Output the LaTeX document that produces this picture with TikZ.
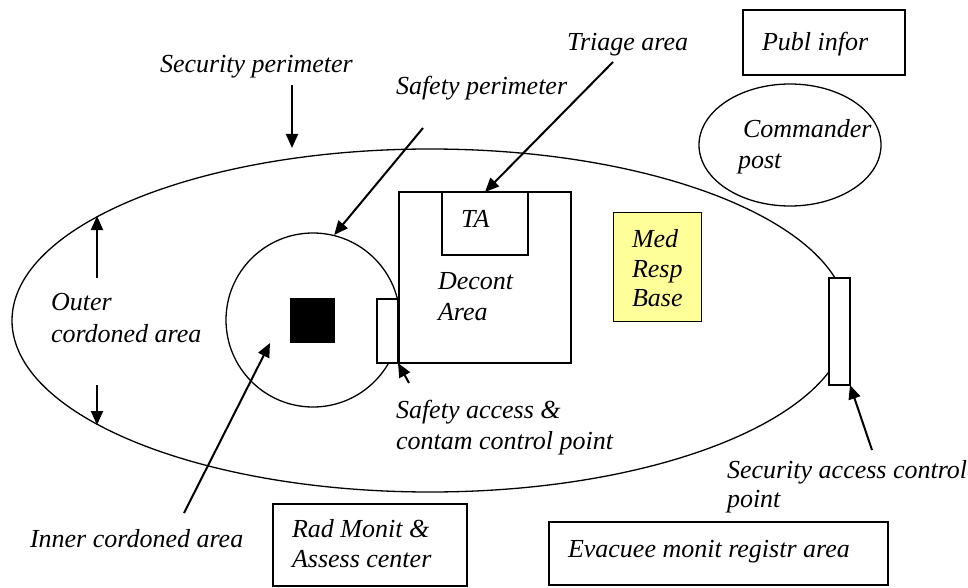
\documentclass[tikz,border=0pt]{standalone}
\usepackage{fontspec}
\setmainfont{Liberation Serif}
\usetikzlibrary{shapes.geometric,arrows.meta}
\definecolor{medyellow}{HTML}{FFFF99}

\tikzset{
  lbl/.style={anchor=base west, inner sep=0pt, outer sep=0pt,
    font=\fontsize{26}{30}\selectfont\itshape},
  outline/.style={draw=black, line width=1.3pt},
  boxshape/.style={outline, rectangle, fill=white, inner sep=0pt, outer sep=0pt, anchor=north west},
  pointer/.style={draw=black, line width=2pt,
    -{Triangle[length=14pt,width=12pt]}}
}

\begin{document}
\begin{tikzpicture}[x=1pt,y=-1pt]
  \useasboundingbox[fill=white] (0,0) rectangle (968,588);

  % security perimeter (outer cordon), with its small break at the bottom
  \node[outline, ellipse, minimum width=836pt, minimum height=343pt, inner sep=0pt] (outer) at (430,320.5) {};
  \fill[white] (628,484) rectangle (633,500);

  % safety perimeter (inner cordon) and the source
  \node[outline, circle, minimum size=174pt, inner sep=0pt] (inner) at (313,320) {};
  \node[fill=black, minimum size=45pt, inner sep=0pt] (source) at (312.5,320.5) {};

  % decontamination area with triage area
  \node[boxshape, minimum width=172pt, minimum height=171pt] (decont) at (399,192) {};
  \node[boxshape, minimum width=86pt, minimum height=63pt] (ta) at (442,192) {};
  \node[lbl] (talbl) at (461,227) {TA};
  \node[lbl] (dec1) at (438,289) {Decont};
  \node[lbl] (dec2) at (438,320) {Area};

  % safety access point
  \node[boxshape, minimum width=21pt, minimum height=64pt] (safeacc) at (377,299) {};

  % medical response base
  \node[outline, rectangle, fill=medyellow, inner sep=0pt, anchor=north west,
        minimum width=88pt, minimum height=109pt] (medbase) at (613,212) {};
  \node[lbl] (med1) at (632,247) {Med};
  \node[lbl] (med2) at (632,277) {Resp};
  \node[lbl] (med3) at (632,306) {Base};

  % security access control point
  \node[boxshape, minimum width=21pt, minimum height=107pt] (secacc) at (829,278) {};

  % public information and command post
  \node[boxshape, minimum width=162pt, minimum height=65pt] (publ) at (743,10) {};
  \node[lbl] (publlbl) at (762,51) {Publ infor};
  \node[outline, ellipse, minimum width=182pt, minimum height=122pt, inner sep=0pt] (cmd) at (790,145) {};
  \node[lbl] (cmd1) at (743,138) {Commander};
  \node[lbl] (cmd2) at (738,168) {post};

  % facilities outside the cordon
  \node[boxshape, minimum width=194pt, minimum height=82pt] (radbox) at (273,504) {};
  \node[lbl] (rad1) at (292,537) {Rad Monit \&};
  \node[lbl] (rad2) at (292,567) {Assess center};
  \node[boxshape, minimum width=339pt, minimum height=63pt] (evac) at (549,522) {};
  \node[lbl] (evaclbl) at (568,557) {Evacuee monit registr area};

  % labels
  \node[lbl] (secper) at (160,73) {Security perimeter};
  \node[lbl] (safeper) at (396,95) {Safety perimeter};
  \node[lbl] (triage) at (567,51) {Triage area};
  \node[lbl] (outer1) at (51,310) {Outer};
  \node[lbl] (outer2) at (51,342) {cordoned area};
  \node[lbl] (innerlbl) at (30,547) {Inner cordoned area};
  \node[lbl] (sa1) at (396,418) {Safety access \&};
  \node[lbl] (sa2) at (396,449) {contam control point};
  \node[lbl] (sc1) at (727,478) {Security access control};
  \node[lbl] (sc2) at (727,507) {point};

  % pointer ends
  \coordinate (secTail) at (292,85);
  \coordinate (secTip) at (292,148);
  \coordinate (safeTail) at (423,128);
  \coordinate (triTail) at (613,62);
  \coordinate (upTail) at (97,278);
  \coordinate (upTip) at (97,216);
  \coordinate (dnTail) at (97,385);
  \coordinate (dnTip) at (97,425);
  \coordinate (innerTail) at (184,513);
  \coordinate (innerTip) at (270,343);
  \coordinate (saTail) at (409,383);
  \coordinate (scTail) at (872,450);

  % pointers
  \draw[pointer] (secTail) -- (secTip);
  \draw[pointer] (safeTail) -- (inner.76);
  \draw[pointer] (triTail) -- (ta.north);
  \draw[pointer] (upTail) -- (upTip);
  \draw[pointer] (dnTail) -- (dnTip);
  \draw[pointer] (innerTail) -- (innerTip);
  \draw[pointer] (saTail) -- (safeacc.south east);
  \draw[pointer] (scTail) -- (secacc.south east);
\end{tikzpicture}
\end{document}
